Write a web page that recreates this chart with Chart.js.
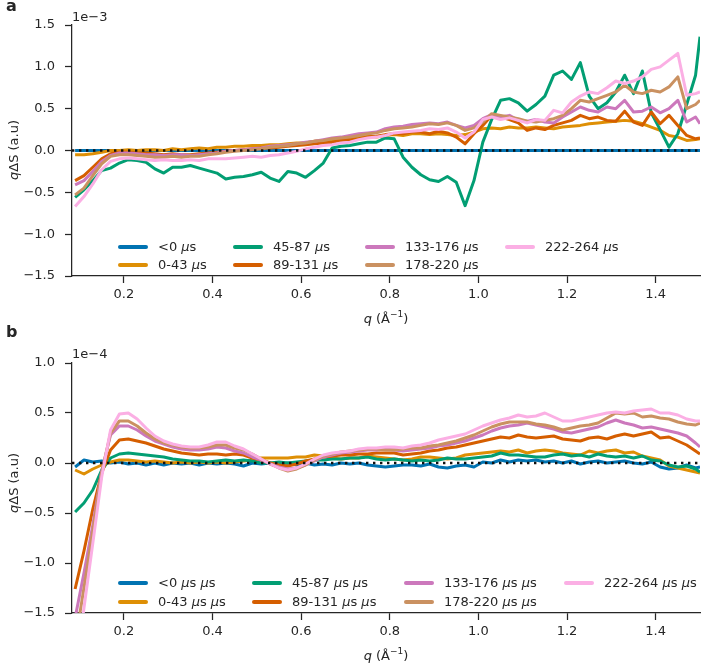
<!DOCTYPE html>
<html>
<head>
<meta charset="utf-8">
<script src="https://cdn.jsdelivr.net/npm/chart.js@4.4.1/dist/chart.umd.min.js"></script>
<style>
  body { margin: 0; background: #fff; }
  #wrap { position: relative; width: 704px; height: 664px; font-family: "DejaVu Sans", sans-serif; color: #262626; }
  canvas { position: absolute; left: 0; }
  .txt { position: absolute; white-space: nowrap; line-height: 1; font-size: 13px; }
  .rot { position: absolute; white-space: nowrap; line-height: 1; font-size: 13px; transform: translate(-50%, -50%) rotate(-90deg); }
  .ctr { position: absolute; white-space: nowrap; line-height: 1; font-size: 13px; transform: translate(-50%, -50%); }
  sup { font-size: 9px; line-height: 0; position: relative; top: -1px; }
</style>
</head>
<body>
<div id="wrap">
  <canvas id="chartA" width="704" height="320" style="top:0px"></canvas>
  <canvas id="chartB" width="704" height="324" style="top:340px"></canvas>

  <div class="txt" style="left:6px;top:-2px;font-size:16px;font-weight:bold">a</div>
  <div class="txt" style="left:72px;top:10px">1e&minus;3</div>
  <div class="rot" style="left:13px;top:150px"><i>q</i>&Delta;S (a.u)</div>
  <div class="ctr" style="left:386px;top:318px"><i>q</i> (&Aring;<sup>&minus;1</sup>)</div>

  <div class="txt" style="left:6px;top:324px;font-size:16px;font-weight:bold">b</div>
  <div class="txt" style="left:72px;top:347px">1e&minus;4</div>
  <div class="rot" style="left:13px;top:483px"><i>q</i>&Delta;S (a.u)</div>
  <div class="ctr" style="left:386px;top:655px"><i>q</i> (&Aring;<sup>&minus;1</sup>)</div>
</div>
<script>
// q grid (1/Angstrom)
var q = [0.09,0.11,0.13,0.15,0.17,0.19,0.21,0.23,0.25,0.27,
         0.29,0.31,0.33,0.35,0.37,0.39,0.41,0.43,0.45,0.47,
         0.49,0.51,0.53,0.55,0.57,0.59,0.61,0.63,0.65,0.67,
         0.69,0.71,0.73,0.75,0.77,0.79,0.81,0.83,0.85,0.87,
         0.89,0.91,0.93,0.95,0.97,0.99,1.01,1.03,1.05,1.07,
         1.09,1.11,1.13,1.15,1.17,1.19,1.21,1.23,1.25,1.27,
         1.29,1.31,1.33,1.35,1.37,1.39,1.41,1.43,1.45,1.47,
         1.49,1.50];

var names = ['<0 μs', '0-43 μs', '45-87 μs', '89-131 μs', '133-176 μs', '178-220 μs', '222-264 μs'];
var namesB = ['<0 μs μs', '0-43 μs μs', '45-87 μs μs', '89-131 μs μs', '133-176 μs μs', '178-220 μs μs', '222-264 μs μs'];
var colors = ['#0173B2', '#DE8F05', '#029E73', '#D55E00', '#CC78BC', '#CA9161', '#FBAFE4'];

var xTicks = [0.2, 0.4, 0.6, 0.8, 1.0, 1.2, 1.4];
var xLimits = [0.083, 1.5];
var yTicksA = [-1.5, -1.0, -0.5, 0.0, 0.5, 1.0, 1.5];
var yTicksB = [-1.5, -1.0, -0.5, 0.0, 0.5, 1.0];

// panel a, units of 1e-3
var blueA = [0,0,0,0,0,0,0,0,0,0,
             0,0,0,0,0,0,0,0,0,0,
             0,0,0,0,0,0,0,0,0,0,
             0,0,0,0,0,0,0,0,0,0,
             0,0,0,0,0,0,0,0,0,0,
             0,0,0,0,0,0,0,0,0,0,
             0,0,0,0,0,0,0,0,0,0,
             0,0];
var orangeA = [-0.05,-0.05,-0.04,-0.02,0.00,0.00,0.01,0.00,0.01,0.01,
               0.00,0.02,0.01,0.02,0.03,0.02,0.04,0.04,0.05,0.05,
               0.06,0.06,0.07,0.07,0.08,0.09,0.09,0.11,0.12,0.12,
               0.14,0.15,0.15,0.17,0.16,0.18,0.19,0.18,0.20,0.20,
               0.19,0.20,0.19,0.18,0.19,0.22,0.26,0.27,0.26,0.28,
               0.27,0.27,0.28,0.27,0.26,0.28,0.29,0.30,0.32,0.33,
               0.34,0.35,0.36,0.35,0.32,0.28,0.24,0.18,0.16,0.12,
               0.13,0.14];
var greenA = [-0.56,-0.47,-0.36,-0.24,-0.21,-0.15,-0.11,-0.12,-0.14,-0.22,
              -0.27,-0.20,-0.20,-0.18,-0.21,-0.24,-0.27,-0.34,-0.32,-0.31,
              -0.29,-0.26,-0.33,-0.37,-0.25,-0.27,-0.32,-0.24,-0.15,0.03,
              0.05,0.06,0.08,0.10,0.10,0.15,0.14,-0.08,-0.20,-0.29,
              -0.35,-0.37,-0.31,-0.38,-0.66,-0.36,0.10,0.37,0.60,0.62,
              0.57,0.47,0.55,0.65,0.90,0.95,0.85,1.05,0.65,0.50,
              0.57,0.70,0.90,0.68,0.95,0.45,0.25,0.04,0.20,0.55,
              0.90,1.36];
var redA = [-0.36,-0.30,-0.20,-0.10,-0.04,-0.02,-0.02,-0.03,-0.03,-0.04,
            -0.05,-0.04,-0.05,-0.05,-0.04,-0.03,-0.02,-0.01,0.00,0.01,
            0.02,0.03,0.03,0.04,0.05,0.06,0.07,0.08,0.09,0.10,
            0.12,0.13,0.14,0.16,0.17,0.19,0.20,0.20,0.22,0.22,
            0.20,0.23,0.21,0.16,0.08,0.20,0.30,0.42,0.40,0.37,
            0.33,0.24,0.27,0.25,0.30,0.33,0.36,0.42,0.38,0.40,
            0.36,0.35,0.47,0.34,0.30,0.46,0.32,0.42,0.30,0.18,
            0.14,0.15];
var purpleA = [-0.41,-0.36,-0.25,-0.13,-0.06,-0.03,-0.03,-0.04,-0.05,-0.05,
               -0.06,-0.05,-0.05,-0.06,-0.05,-0.04,-0.03,-0.01,0.00,0.01,
               0.02,0.03,0.05,0.06,0.07,0.08,0.10,0.11,0.13,0.15,
               0.16,0.18,0.20,0.21,0.22,0.26,0.28,0.29,0.31,0.32,
               0.33,0.32,0.34,0.30,0.27,0.30,0.38,0.43,0.40,0.42,
               0.36,0.35,0.37,0.34,0.33,0.40,0.46,0.52,0.48,0.46,
               0.52,0.50,0.60,0.46,0.47,0.52,0.45,0.50,0.60,0.34,
               0.40,0.32];
var brownA = [-0.53,-0.45,-0.30,-0.16,-0.07,-0.05,-0.05,-0.06,-0.07,-0.08,
              -0.08,-0.07,-0.08,-0.07,-0.07,-0.05,-0.04,-0.02,-0.01,0.00,
              0.01,0.02,0.04,0.05,0.06,0.08,0.09,0.11,0.12,0.14,
              0.15,0.16,0.18,0.20,0.21,0.24,0.26,0.27,0.28,0.30,
              0.32,0.31,0.33,0.30,0.24,0.27,0.34,0.44,0.42,0.40,
              0.38,0.35,0.34,0.36,0.38,0.42,0.50,0.60,0.58,0.62,
              0.66,0.70,0.78,0.70,0.68,0.72,0.70,0.76,0.88,0.50,
              0.55,0.60];
var pinkA = [-0.67,-0.55,-0.40,-0.23,-0.13,-0.10,-0.09,-0.10,-0.11,-0.12,
             -0.11,-0.12,-0.12,-0.11,-0.12,-0.10,-0.10,-0.10,-0.09,-0.08,
             -0.07,-0.08,-0.06,-0.05,-0.03,-0.01,0.02,0.04,0.06,0.07,
             0.09,0.10,0.13,0.15,0.16,0.18,0.21,0.22,0.23,0.24,
             0.26,0.25,0.27,0.22,0.15,0.22,0.37,0.40,0.37,0.39,
             0.36,0.33,0.37,0.36,0.48,0.45,0.58,0.65,0.70,0.68,
             0.75,0.83,0.80,0.83,0.88,0.97,1.00,1.08,1.16,0.66,
             0.68,0.70];

// panel b, units of 1e-4
var blueB = [-0.04,0.03,0.01,0.02,0.00,0.01,-0.01,0.00,-0.02,0.00,
             -0.02,0.00,-0.01,0.00,-0.02,0.00,-0.01,0.00,-0.01,-0.03,
             0.00,-0.01,0.00,-0.01,0.00,-0.02,0.00,-0.02,-0.01,-0.02,
             0.00,-0.01,0.00,-0.02,-0.03,-0.04,-0.03,-0.02,-0.02,-0.03,
             -0.01,-0.04,-0.05,-0.03,-0.02,-0.04,0.01,0.00,0.03,0.01,
             0.03,0.02,0.03,0.01,0.02,0.00,0.02,-0.01,0.01,0.02,
             0.00,0.01,0.02,0.00,-0.01,0.01,-0.04,-0.06,-0.05,-0.02,
             -0.05,-0.04];
var orangeB = [-0.07,-0.11,-0.06,-0.02,0.01,0.03,0.03,0.02,0.01,0.02,
               0.01,0.00,0.01,0.00,0.01,0.00,0.01,0.00,0.01,0.02,
               0.03,0.05,0.05,0.05,0.05,0.06,0.06,0.08,0.07,0.05,
               0.04,0.05,0.05,0.07,0.06,0.05,0.04,0.03,0.04,0.06,
               0.06,0.05,0.04,0.05,0.08,0.09,0.10,0.11,0.12,0.11,
               0.13,0.10,0.12,0.13,0.12,0.10,0.09,0.08,0.12,0.10,
               0.12,0.13,0.10,0.11,0.07,0.05,0.03,-0.03,-0.05,-0.07,
               -0.09,-0.10];
var greenB = [-0.49,-0.40,-0.27,-0.07,0.05,0.09,0.10,0.09,0.08,0.07,
              0.06,0.04,0.03,0.02,0.02,0.01,0.02,0.03,0.02,0.03,
              0.02,0.00,0.00,0.01,0.00,0.01,0.02,0.03,0.03,0.04,
              0.04,0.05,0.05,0.06,0.04,0.03,0.04,0.03,0.02,0.03,
              0.02,0.03,0.05,0.04,0.04,0.05,0.06,0.07,0.10,0.08,
              0.08,0.07,0.06,0.06,0.08,0.09,0.07,0.08,0.06,0.09,
              0.07,0.06,0.07,0.05,0.07,0.03,0.02,-0.02,-0.04,-0.03,
              -0.06,-0.09];
var redB = [-1.26,-0.88,-0.46,-0.10,0.13,0.23,0.24,0.22,0.20,0.17,
            0.14,0.12,0.10,0.09,0.08,0.09,0.09,0.08,0.09,0.08,
            0.05,0.03,0.00,-0.02,-0.03,-0.01,0.02,0.04,0.06,0.07,
            0.08,0.08,0.09,0.09,0.10,0.10,0.10,0.08,0.09,0.10,
            0.12,0.13,0.15,0.16,0.18,0.20,0.22,0.24,0.26,0.25,
            0.28,0.26,0.25,0.26,0.27,0.24,0.23,0.22,0.25,0.26,
            0.24,0.27,0.29,0.27,0.29,0.31,0.25,0.26,0.22,0.18,
            0.12,0.09];
var purpleB = [-1.55,-1.10,-0.62,-0.08,0.28,0.37,0.37,0.33,0.27,0.22,
               0.19,0.16,0.14,0.13,0.13,0.14,0.16,0.15,0.12,0.10,
               0.06,0.03,-0.01,-0.04,-0.06,-0.05,-0.02,0.02,0.06,0.08,
               0.10,0.11,0.12,0.13,0.13,0.14,0.13,0.12,0.13,0.14,
               0.15,0.17,0.18,0.20,0.22,0.25,0.28,0.32,0.35,0.37,
               0.38,0.40,0.38,0.36,0.34,0.31,0.30,0.32,0.34,0.36,
               0.40,0.43,0.40,0.38,0.35,0.36,0.34,0.32,0.30,0.27,
               0.20,0.16];
var brownB = [-1.80,-1.25,-0.68,-0.10,0.30,0.42,0.42,0.37,0.30,0.24,
              0.20,0.18,0.16,0.15,0.15,0.16,0.18,0.18,0.15,0.13,
              0.09,0.04,-0.01,-0.05,-0.08,-0.06,-0.02,0.03,0.07,0.09,
              0.11,0.12,0.13,0.14,0.14,0.13,0.13,0.14,0.15,0.15,
              0.17,0.18,0.20,0.22,0.25,0.28,0.32,0.36,0.39,0.41,
              0.41,0.41,0.39,0.38,0.36,0.33,0.35,0.37,0.38,0.40,
              0.45,0.50,0.49,0.50,0.46,0.47,0.45,0.44,0.41,0.39,
              0.38,0.40];
var pinkB = [-2.10,-1.45,-0.80,-0.14,0.33,0.49,0.50,0.44,0.35,0.27,
             0.22,0.19,0.17,0.16,0.16,0.18,0.21,0.21,0.17,0.14,
             0.09,0.04,-0.01,-0.05,-0.07,-0.05,-0.01,0.04,0.08,0.10,
             0.11,0.12,0.14,0.15,0.15,0.16,0.16,0.15,0.17,0.18,
             0.20,0.23,0.25,0.27,0.29,0.33,0.37,0.40,0.43,0.45,
             0.48,0.46,0.47,0.50,0.46,0.42,0.42,0.44,0.46,0.48,
             0.50,0.51,0.50,0.52,0.53,0.54,0.50,0.50,0.48,0.44,
             0.42,0.42];

var ink = '#262626';
var tickFont = { family: 'DejaVu Sans', size: 13 };

function pts(arr) {
  return q.map(function (x, i) { return { x: x, y: arr[i] }; });
}

function drawLabel(ctx, text, x, y) {
  var parts = text.split('μ');
  var cx = x;
  for (var i = 0; i < parts.length; i++) {
    if (i > 0) {
      ctx.font = 'italic 13px "DejaVu Sans"';
      ctx.fillText('μ', cx, y);
      cx += ctx.measureText('μ').width;
    }
    ctx.font = '13px "DejaVu Sans"';
    ctx.fillText(parts[i], cx, y);
    cx += ctx.measureText(parts[i]).width;
  }
}

function legendPlugin(labels, colX, rowY) {
  return {
    id: 'miniLegend',
    afterDraw: function (chart) {
      var ctx = chart.ctx;
      ctx.save();
      ctx.textBaseline = 'middle';
      ctx.fillStyle = ink;
      for (var i = 0; i < labels.length; i++) {
        var c = Math.floor(i / 2), r = i % 2;
        var x = colX[c], y = rowY[r];
        ctx.strokeStyle = colors[i];
        ctx.lineWidth = 4;
        ctx.lineCap = 'round';
        ctx.beginPath();
        ctx.moveTo(x + 2, y);
        ctx.lineTo(x + 28, y);
        ctx.stroke();
        ctx.fillStyle = ink;
        drawLabel(ctx, labels[i], x + 40, y + 1);
      }
      ctx.restore();
    }
  };
}

function makeChart(id, series, labels, yTicks, padTop, xHeight, colX, rowY) {
  var datasets = [{
    label: 'zero',
    data: [{ x: xLimits[0], y: 0 }, { x: xLimits[1], y: 0 }],
    borderColor: '#111',
    borderWidth: 2.4,
    borderDash: [2.4, 4.6],
    borderCapStyle: 'butt',
    pointRadius: 0,
    order: 0
  }];
  series.forEach(function (s, i) {
    datasets.push({
      label: labels[i],
      data: pts(s),
      borderColor: colors[i],
      borderWidth: 3,
      borderJoinStyle: 'round',
      pointRadius: 0,
      tension: 0,
      order: series.length - i
    });
  });
  var yMin = yTicks[0], yMax = yTicks[yTicks.length - 1];
  return new Chart(document.getElementById(id), {
    type: 'line',
    data: { datasets: datasets },
    options: {
      responsive: false,
      animation: false,
      devicePixelRatio: 1,
      layout: { padding: { top: padTop, right: 4, left: 0, bottom: 0 } },
      plugins: { legend: { display: false }, tooltip: { enabled: false } },
      scales: {
        x: {
          type: 'linear',
          min: xLimits[0],
          max: xLimits[1],
          afterBuildTicks: function (sc) { sc.ticks = xTicks.map(function (v) { return { value: v }; }); },
          afterFit: function (sc) { sc.height = xHeight; },
          ticks: { font: tickFont, color: ink, padding: 4, maxRotation: 0,
                   callback: function (v) { return v.toFixed(1); } },
          grid: { display: true, drawOnChartArea: false, tickLength: 7, tickColor: ink, tickWidth: 1.25 },
          border: { display: true, color: ink, width: 1.25 }
        },
        y: {
          type: 'linear',
          min: yMin,
          max: yMax,
          afterBuildTicks: function (sc) { sc.ticks = yTicks.map(function (v) { return { value: v }; }); },
          afterFit: function (sc) { sc.width = 72; },
          ticks: { font: tickFont, color: ink, padding: 10,
                   callback: function (v) { return v.toFixed(1).replace('-', '\u2212'); } },
          grid: { display: true, drawOnChartArea: false, tickLength: 7, tickColor: ink, tickWidth: 1.25 },
          border: { display: true, color: ink, width: 1.25 }
        }
      }
    },
    plugins: [legendPlugin(labels, colX, rowY)]
  });
}

makeChart('chartA', [blueA, orangeA, greenA, redA, purpleA, brownA, pinkA], names, yTicksA,
          25, 44, [118, 233, 365, 505], [247, 265]);
makeChart('chartB', [blueB, orangeB, greenB, redB, purpleB, brownB, pinkB], namesB, yTicksB,
          23, 51, [118, 252, 404, 564], [243, 262]);
</script>
</body>
</html>
